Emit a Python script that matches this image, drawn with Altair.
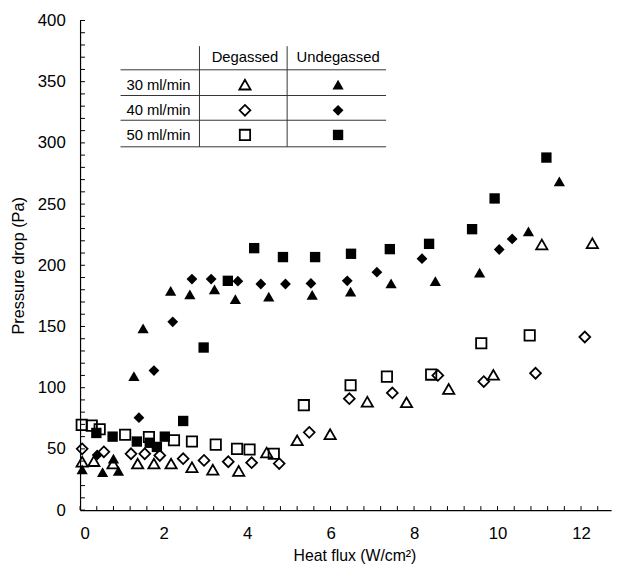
import altair as alt
import pandas as pd

# ---------------- data ----------------
RATES = ["30 ml/min", "40 ml/min", "50 ml/min"]
GASES = ["Degassed", "Undegassed"]

deg30_x = [0.05, 0.33, 0.79, 1.38, 1.77, 2.18, 2.68, 3.18, 3.80, 4.47, 5.20, 5.99, 6.88, 7.82, 8.83, 9.90, 11.06, 12.27]
deg30_y = [39.5, 40, 38, 38, 38, 38, 35, 33, 32, 47, 57, 62, 88.5, 88, 99, 110.5, 217, 218]

deg40_x = [0.05, 0.57, 1.22, 1.55, 1.91, 2.47, 2.97, 3.55, 4.11, 4.77, 5.49, 6.45, 7.48, 8.57, 9.67, 10.91, 12.09]
deg40_y = [50, 47.6, 46, 46, 44.6, 42, 40.6, 39.5, 38.7, 38, 63.5, 91, 95.7, 110, 105, 111.8, 141.4]

deg50_x = [0.04, 0.28, 0.47, 1.08, 1.65, 2.25, 2.68, 3.25, 3.76, 4.06, 4.64, 5.36, 6.48, 7.35, 8.41, 9.61, 10.77]
deg50_y = [69.6, 69, 66, 61.5, 59.7, 57, 56, 53.5, 50, 49.5, 46, 85.7, 102, 109, 110.7, 136.3, 142.7]

und30_x = [0.05, 0.54, 0.80, 0.92, 1.29, 1.51, 2.17, 2.63, 3.22, 3.72, 4.52, 5.56, 6.48, 7.45, 8.51, 9.57, 10.74, 11.48]
und30_y = [33.3, 31, 42, 32, 109.4, 148.4, 179, 176.3, 180.4, 172.3, 174.4, 175.8, 178.5, 185.2, 187.1, 194, 227.7, 268.5]

und40_x = [0.41, 1.41, 1.77, 2.22, 2.68, 3.14, 3.78, 4.33, 4.92, 5.53, 6.40, 7.11, 8.19, 10.04, 10.35]
und40_y = [45, 75.5, 114, 153.8, 188.7, 188.7, 187, 184.7, 184.7, 185.2, 187.3, 194.4, 205.4, 212.9, 221.5]

und50_x = [0.39, 0.78, 1.36, 1.67, 1.84, 2.03, 2.47, 2.96, 3.54, 4.17, 4.86, 5.63, 6.49, 7.42, 8.36, 9.39, 9.93, 11.17]
und50_y = [63, 60, 56, 55, 51.6, 60, 72.8, 132.8, 187.3, 214, 206.7, 206.7, 209.4, 213.2, 217.5, 229.5, 254.6, 288]

x_label_values = [0, 2, 4, 6, 8, 10, 12]
y_label_values = [0, 50, 100, 150, 200, 250, 300, 350, 400]
x_minor_ticks = [round(i * 0.4, 1) for i in range(32)]
y_minor_ticks = list(range(0, 401, 10))

series = [
    ("Degassed", "30 ml/min", deg30_x, deg30_y),
    ("Degassed", "40 ml/min", deg40_x, deg40_y),
    ("Degassed", "50 ml/min", deg50_x, deg50_y),
    ("Undegassed", "30 ml/min", und30_x, und30_y),
    ("Undegassed", "40 ml/min", und40_x, und40_y),
    ("Undegassed", "50 ml/min", und50_x, und50_y),
]
rows = []
for gas, rate, xs, ys in series:
    for a, b in zip(xs, ys):
        rows.append({"flux": a, "dp": b, "gas": gas, "rate": rate})
df = pd.DataFrame(rows)

# ---------------- layout (legend table, in data units) ----------------
TBL_X0, TBL_X1 = 0.97, 7.33
TBL_V = [2.86, 4.96]
TBL_H = [359.7, 338.7, 318.5, 296.8]
TBL_TOP = 379.0
HDR_Y = 370.2
COL_X = {"Degassed": 3.95, "Undegassed": 6.18}
ROW_Y = {"30 ml/min": 347.6, "40 ml/min": 326.6, "50 ml/min": 306.5}
ROW_LABEL_X = 1.11

hlines = pd.DataFrame({"flux": [TBL_X0] * 4, "flux2": [TBL_X1] * 4, "dp": TBL_H, "dp2": TBL_H})
vlines = pd.DataFrame({"flux": TBL_V, "flux2": TBL_V, "dp": [TBL_TOP] * 2, "dp2": [TBL_H[-1]] * 2})
tbl_lines = pd.concat([hlines, vlines], ignore_index=True)
hdr = pd.DataFrame({"flux": [COL_X[g] for g in GASES], "dp": [HDR_Y] * 2, "t": GASES})
rowlab = pd.DataFrame({"flux": [ROW_LABEL_X] * 3, "dp": [ROW_Y[r] for r in RATES], "t": RATES})
sym = pd.DataFrame([{"flux": COL_X[g], "dp": ROW_Y[r], "gas": g, "rate": r} for g in GASES for r in RATES])
yt_df = pd.DataFrame({"dp": y_minor_ticks})
xt_df = pd.DataFrame({"flux": x_minor_ticks})

FONT = "Liberation Sans"
W, H = 538, 496
xscale = alt.Scale(domain=[0, 12.72], nice=False, zero=False)
yscale = alt.Scale(domain=[0, 400], nice=False)
shape_scale = alt.Scale(domain=RATES, range=["triangle-up", "diamond", "square"])
size_scale = alt.Scale(domain=RATES, range=[130, 110, 85])

xaxis = alt.Axis(values=x_label_values, ticks=False, grid=False, labelFontSize=17, labelPadding=16,
                 title="Heat flux (W/cm²)", titleFontSize=16, titleFontWeight="normal", titlePadding=6,
                 titleX=W / 2 + 9, titleAnchor="middle",
                 domainColor="black", domainWidth=1.2, labelColor="black", titleColor="black",
                 labelFont=FONT, titleFont=FONT)
yaxis = alt.Axis(values=y_label_values, ticks=False, grid=False, labelFontSize=17, labelPadding=15,
                 title="Pressure drop (Pa)", titleFontSize=16.5, titleFontWeight="normal", titlePadding=11,
                 domainColor="black", domainWidth=1.2, labelColor="black", titleColor="black",
                 labelFont=FONT, titleFont=FONT)

X = alt.X("flux:Q", scale=xscale, axis=xaxis)
Y = alt.Y("dp:Q", scale=yscale, axis=yaxis)


def points(data, gas, filled):
    enc = dict(
        x=X, y=Y,
        shape=alt.Shape("rate:N", scale=shape_scale, legend=None),
        size=alt.Size("rate:O", scale=size_scale, legend=None),
    )
    if filled:
        m = alt.Chart(data).mark_point(filled=True, color="black", opacity=1, strokeWidth=0)
    else:
        m = alt.Chart(data).mark_point(filled=False, color="black", opacity=1, strokeWidth=1.8)
    return m.transform_filter(alt.datum.gas == gas).encode(**enc)


open_pts = points(df, "Degassed", False)
fill_pts = points(df, "Undegassed", True)
open_sym = points(sym, "Degassed", False)
fill_sym = points(sym, "Undegassed", True)

yt = alt.Chart(yt_df).mark_rule(color="black", strokeWidth=1).encode(
    y=Y, x=alt.value(0), x2=alt.value(5))
xt = alt.Chart(xt_df).mark_rule(color="black", strokeWidth=1).encode(
    x=X, y=alt.value(H), y2=alt.value(H - 4))

lines = alt.Chart(tbl_lines).mark_rule(color="#333333", strokeWidth=1).encode(
    x=X, x2="flux2:Q", y=Y, y2="dp2:Q")
hdr_t = alt.Chart(hdr).mark_text(font=FONT, fontSize=15, color="black", align="center", baseline="middle").encode(
    x=X, y=Y, text="t:N")
row_t = alt.Chart(rowlab).mark_text(font=FONT, fontSize=15, color="black", align="left", baseline="middle").encode(
    x=X, y=Y, text="t:N")

chart = alt.layer(open_pts, fill_pts, yt, xt, lines, hdr_t, row_t, open_sym, fill_sym).properties(
    width=W, height=H,
    autosize=alt.AutoSizeParams(type="none"),
    padding={"left": 73, "top": 9, "right": 8, "bottom": 52},
    background="white",
).configure_view(stroke=None)

chart.save("out.html", embed_options={"renderer": "svg", "actions": False})
